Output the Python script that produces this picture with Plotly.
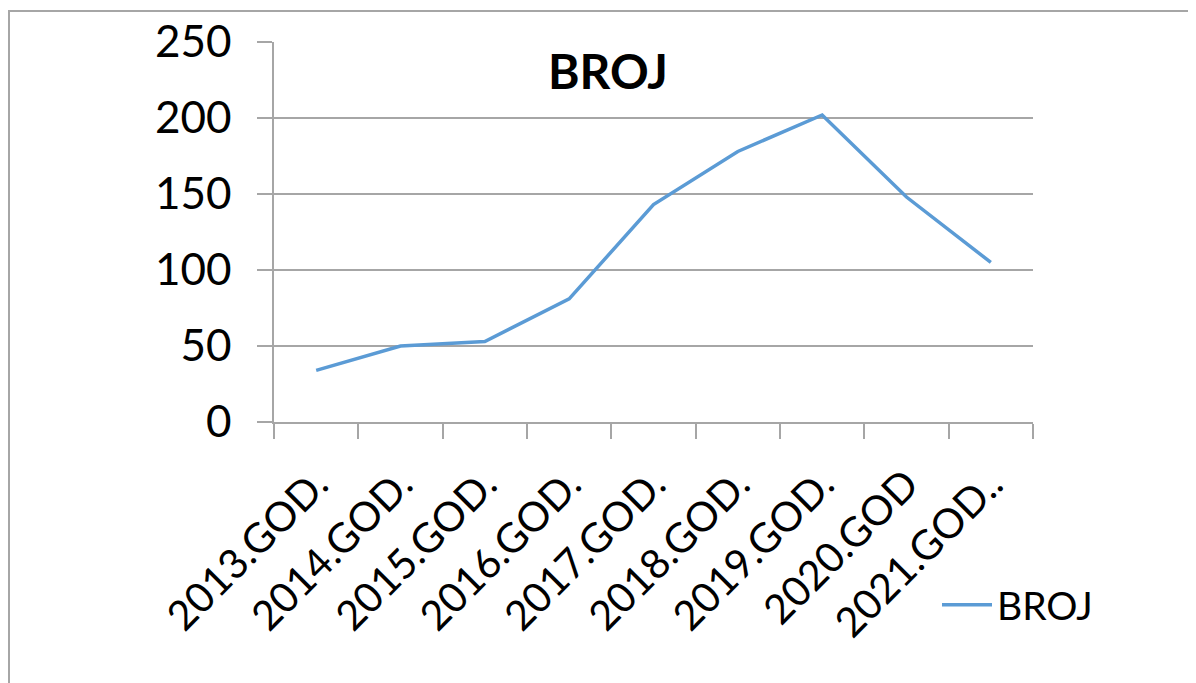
import plotly.graph_objects as go

categories = ["2013.GOD.", "2014.GOD.", "2015.GOD.", "2016.GOD.", "2017.GOD.",
              "2018.GOD.", "2019.GOD.", "2020.GOD", "2021.GOD.."]
broj = [34, 50, 53, 81, 143, 178, 202, 148, 105]
y_ticks = [0, 50, 100, 150, 200, 250]

OFF = 8  # page body margin
W, H = 1196 - OFF, 683 - OFF
L, T = 274 - OFF, 42 - OFF
R = W - (1033 - OFF)
B = H - (422 - OFF)
pw, ph = W - L - R, H - T - B

def px_x(x):
    return (x - OFF - L) / pw

def px_y(y):
    return (H - B - (y - OFF)) / ph

FONT = "Lato"
GRID = "#A6A6A6"

fig = go.Figure()
fig.add_trace(go.Scatter(
    x=categories, y=broj, mode="lines", name="BROJ",
    line=dict(color="#5B9BD5", width=3.5),
))

fig.update_layout(
    width=W, height=H,
    margin=dict(l=L, r=R, t=T, b=B, autoexpand=False),
    paper_bgcolor="white", plot_bgcolor="white",
    font=dict(family=FONT, color="black"),
    showlegend=True,
    legend=dict(x=px_x(937), y=px_y(605), xanchor="left", yanchor="middle",
                font=dict(size=39, family=FONT), bgcolor="rgba(0,0,0,0)",
                itemwidth=50),
    xaxis=dict(
        type="category", range=[-0.5, len(categories) - 0.5],
        showgrid=False, showline=True, linecolor=GRID, linewidth=1.5,
        ticks="outside", ticklen=15, tickcolor=GRID, tickwidth=1.5,
        tickson="boundaries", tickangle=-45,
        tickfont=dict(size=41, family=FONT), ticklabelstandoff=20,
    ),
    yaxis=dict(
        range=[0, 250], tickvals=y_ticks, showgrid=True, gridcolor=GRID, gridwidth=1.5,
        showline=True, linecolor=GRID, linewidth=1.5,
        ticks="outside", ticklen=15, tickcolor=GRID, tickwidth=1.5,
        tickfont=dict(size=44, family=FONT), ticklabelstandoff=17, zeroline=False,
    ),
    annotations=[dict(
        text="<b>BROJ</b>", x=px_x(608), y=px_y(70), xref="paper", yref="paper",
        showarrow=False, font=dict(size=48, family=FONT, color="black"),
        xanchor="center", yanchor="middle",
    )],
    shapes=[
        dict(type="line", xref="paper", yref="paper", x0=px_x(8), x1=px_x(1300),
             y0=px_y(11), y1=px_y(11), line=dict(color=GRID, width=2)),
        dict(type="line", xref="paper", yref="paper", x0=px_x(9), x1=px_x(9),
             y0=px_y(11), y1=px_y(800), line=dict(color=GRID, width=2)),
    ],
)

fig.write_html("out.html")
